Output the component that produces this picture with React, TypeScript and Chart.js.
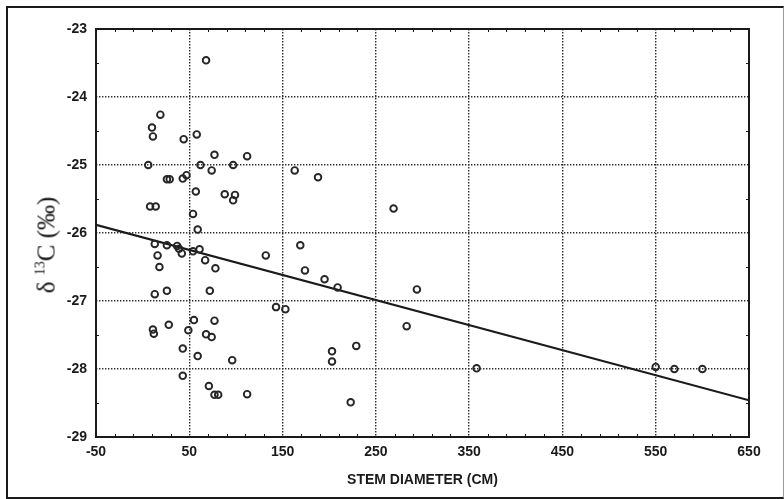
import React, { useEffect, useRef } from "react";
import { Chart, registerables } from "chart.js";

Chart.register(...registerables);

// Stem diameter (cm)
const stemDiameter = [
  68, 19, 10, 11, 44, 58, 77, 112, 6, 62, 74, 97, 26, 29, 43, 47, 57, 88, 99, 97,
  8, 14, 54, 59, 13, 26, 37, 39, 42, 54, 61, 16, 67, 18, 78, 13, 26, 72, 11, 12,
  28, 49, 55, 77, 68, 74, 43, 59, 96, 43, 71, 77, 81, 112, 163, 188, 269, 169, 132, 174,
  195, 209, 294, 143, 153, 203, 203, 229, 223, 283, 358, 550, 570, 600,
];
// delta 13C (per mil)
const delta13C = [
  -23.46, -24.26, -24.45, -24.58, -24.62, -24.55, -24.85, -24.87, -25.0, -25.0, -25.08, -25.0, -25.21, -25.21, -25.2, -25.15, -25.39, -25.43, -25.44, -25.52,
  -25.61, -25.61, -25.72, -25.95, -26.16, -26.18, -26.19, -26.23, -26.3, -26.27, -26.24, -26.33, -26.4, -26.5, -26.52, -26.9, -26.85, -26.85, -27.42, -27.48,
  -27.35, -27.43, -27.28, -27.29, -27.49, -27.53, -27.7, -27.81, -27.87, -28.1, -28.25, -28.38, -28.38, -28.37, -25.08, -25.18, -25.64, -26.18, -26.33, -26.55,
  -26.68, -26.8, -26.83, -27.09, -27.12, -27.74, -27.89, -27.66, -28.49, -27.37, -27.99, -27.97, -28.0, -28.0,
];
// regression line end points
const fitX = [-50, 650];
const fitY = [-25.88, -28.46];

const xTicks = [-50, 50, 150, 250, 350, 450, 550, 650];
const yTicks = [-29, -28, -27, -26, -25, -24, -23];
const xMinorStep = 20;
const yMinorStep = 0.5;

const xTitle = "STEM DIAMETER (CM)";

const INK = "#1a1a1a";

const framePlugin = {
  id: "frame",
  afterDraw(chart: any) {
    const { ctx, chartArea: a, scales } = chart;
    ctx.save();
    ctx.strokeStyle = INK;
    ctx.lineWidth = 1;
    ctx.beginPath();
    for (let v = xTicks[0] + xMinorStep; v < xTicks[xTicks.length - 1]; v += xMinorStep) {
      if (xTicks.includes(v)) continue;
      const px = Math.round(scales.x.getPixelForValue(v)) + 0.5;
      ctx.moveTo(px, a.bottom);
      ctx.lineTo(px, a.bottom - 3);
      ctx.moveTo(px, a.top);
      ctx.lineTo(px, a.top + 3);
    }
    for (let v = yTicks[0] + yMinorStep; v < yTicks[yTicks.length - 1]; v += yMinorStep) {
      if (yTicks.includes(v)) continue;
      const py = Math.round(scales.y.getPixelForValue(v)) + 0.5;
      ctx.moveTo(a.left, py);
      ctx.lineTo(a.left + 3, py);
      ctx.moveTo(a.right, py);
      ctx.lineTo(a.right - 3, py);
    }
    ctx.stroke();
    ctx.lineWidth = 2;
    ctx.strokeRect(a.left, a.top, a.right - a.left, a.bottom - a.top);
    ctx.restore();
  },
};

export default function App() {
  const ref = useRef<HTMLCanvasElement | null>(null);

  useEffect(() => {
    document.body.style.margin = "0";
    const canvas = ref.current;
    if (!canvas) return;
    const chart = new Chart(canvas, {
      type: "scatter",
      data: {
        datasets: [
          {
            type: "scatter",
            data: stemDiameter.map((x, i) => ({ x, y: delta13C[i] })),
            pointStyle: "circle",
            pointRadius: 3.3,
            pointBorderWidth: 1.9,
            pointBorderColor: "#262626",
            pointBackgroundColor: "rgba(255,255,255,0)",
            pointHoverRadius: 3.3,
          } as any,
          {
            type: "line",
            data: fitX.map((x, i) => ({ x, y: fitY[i] })),
            borderColor: INK,
            borderWidth: 2,
            pointRadius: 0,
            fill: false,
          } as any,
        ],
      },
      options: {
        animation: false,
        responsive: false,
        devicePixelRatio: 1,
        events: [],
        layout: { padding: { left: 0, top: 29, right: 35, bottom: 0 } },
        plugins: {
          legend: { display: false },
          tooltip: { enabled: false },
          title: { display: false },
        },
        scales: {
          x: {
            type: "linear",
            min: xTicks[0],
            max: xTicks[xTicks.length - 1],
            afterBuildTicks: (s: any) => {
              s.ticks = xTicks.map((v) => ({ value: v }));
            },
            afterFit: (s: any) => {
              s.height = 62;
            },
            ticks: {
              padding: 7,
              color: INK,
              font: { family: "'Liberation Sans', Arial, sans-serif", size: 14, weight: "bold" },
              callback: (v: any) => String(v),
            },
            grid: {
              drawTicks: false,
              color: (c: any) =>
                c.tick && (c.tick.value === xTicks[0] || c.tick.value === xTicks[xTicks.length - 1])
                  ? "rgba(0,0,0,0)"
                  : "#2e2e2e",
              lineWidth: 1.4,
            },
            border: { display: false, dash: [1.4, 1.6] },
            title: {
              display: true,
              text: xTitle,
              color: INK,
              font: { family: "'Liberation Sans', Arial, sans-serif", size: 14, weight: "bold" },
              padding: { top: 0, bottom: 10 },
            },
          },
          y: {
            type: "linear",
            min: yTicks[0],
            max: yTicks[yTicks.length - 1],
            afterBuildTicks: (s: any) => {
              s.ticks = yTicks.map((v) => ({ value: v }));
            },
            afterFit: (s: any) => {
              s.width = 96;
            },
            ticks: {
              padding: 9,
              color: INK,
              font: { family: "'Liberation Sans', Arial, sans-serif", size: 14, weight: "bold" },
              callback: (v: any) => String(v),
            },
            grid: {
              drawTicks: false,
              color: (c: any) =>
                c.tick && (c.tick.value === yTicks[0] || c.tick.value === yTicks[yTicks.length - 1])
                  ? "rgba(0,0,0,0)"
                  : "#2e2e2e",
              lineWidth: 1.4,
            },
            border: { display: false, dash: [1.4, 1.6] },
          },
        },
      },
      plugins: [framePlugin],
    } as any);
    return () => chart.destroy();
  }, []);

  return (
    <div style={{ position: "relative", width: 784, height: 499, background: "#fff", overflow: "hidden" }}>
      <div
        style={{
          position: "absolute",
          left: 6,
          top: 6,
          width: 775,
          height: 489,
          borderLeft: "2px solid #1a1a1a",
          borderTop: "2px solid #1a1a1a",
          borderBottom: "2px solid #1a1a1a",
          borderRight: "1px solid #9a9a9a",
        }}
      />
      <canvas
        ref={ref}
        width={784}
        height={499}
        style={{ position: "absolute", left: 0, top: 0, width: 784, height: 499, display: "block" }}
      />
      <div
        style={{
          position: "absolute",
          left: 43,
          top: 245,
          transform: "translate(-50%, -50%) rotate(-90deg)",
          whiteSpace: "nowrap",
          fontFamily: "'Liberation Serif', 'Times New Roman', serif",
          fontSize: 25,
          lineHeight: "25px",
          color: "#111",
        }}
      >
        δ <span style={{ fontSize: 14, verticalAlign: 10 }}>13</span>C (‰)
      </div>
    </div>
  );
}
